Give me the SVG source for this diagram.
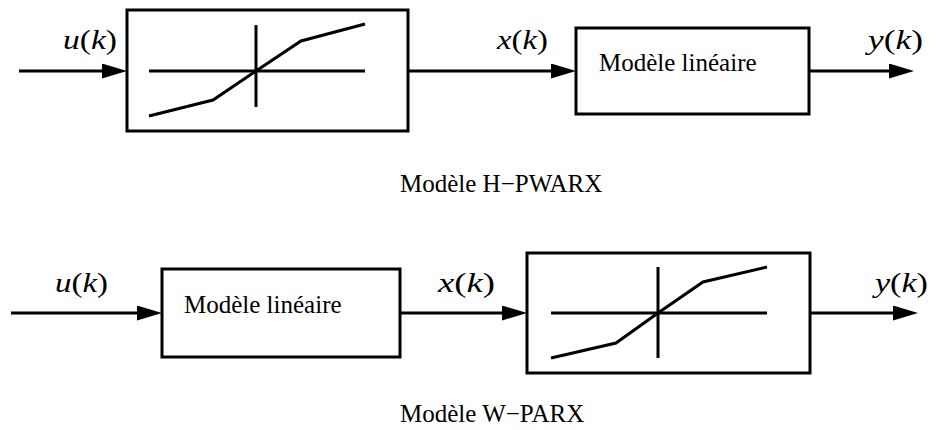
<svg xmlns="http://www.w3.org/2000/svg" width="936" height="430" viewBox="0 0 936 430">
<style>
.box{fill:#fff;stroke:#000;stroke-width:3}
.ln{fill:none;stroke:#000;stroke-width:3}
.wire{fill:none;stroke:#000;stroke-width:3;marker-end:url(#arr)}
.t{font-size:25px;fill:#000}
.m{font-size:27px;fill:#000}
.i{font-style:italic}
</style>
<defs>
<marker id="arr" markerUnits="userSpaceOnUse" markerWidth="26" markerHeight="16" refX="0" refY="7.5" orient="auto">
<path d="M0,0 L25,7.5 L0,15 z" fill="#000"/>
</marker>
</defs>
<rect width="936" height="430" fill="#fff"/>
<g id="connectors">
<line class="wire" x1="19" y1="71" x2="102" y2="71"/>
<line class="wire" x1="408" y1="71" x2="551" y2="71"/>
<line class="wire" x1="809" y1="71" x2="889" y2="71"/>
<line class="wire" x1="11" y1="313" x2="137" y2="313"/>
<line class="wire" x1="400" y1="313" x2="502" y2="313"/>
<line class="wire" x1="810" y1="313" x2="893" y2="313"/>
</g>
<g id="h-nonlin">
<rect class="box" x="127" y="10" width="281" height="121"/>
<line class="ln" x1="149" y1="71" x2="365" y2="71"/>
<line class="ln" x1="256" y1="25" x2="256" y2="107"/>
<polyline class="ln" points="149,116 213,100 256,71 301,41 365,24"/>
</g>
<g id="h-lin">
<rect class="box" x="576" y="28" width="233" height="86"/>
<text class="t" font-family="Liberation Serif, serif" x="599" y="71">Modèle linéaire</text>
</g>
<g id="w-lin">
<rect class="box" x="162" y="269" width="238" height="88"/>
<text class="t" font-family="Liberation Serif, serif" x="184" y="313">Modèle linéaire</text>
</g>
<g id="w-nonlin">
<rect class="box" x="527" y="253" width="283" height="120"/>
<line class="ln" x1="551" y1="313" x2="767" y2="313"/>
<line class="ln" x1="658" y1="267" x2="658" y2="358"/>
<polyline class="ln" points="551,358 616,343 658,313 703,282 767,267"/>
</g>
<g id="labels" font-family="Liberation Serif, serif">
<text class="m" x="63" y="49" textLength="54" lengthAdjust="spacingAndGlyphs"><tspan class="i">u</tspan>(<tspan class="i">k</tspan>)</text>
<text class="m" x="497" y="49" textLength="51" lengthAdjust="spacingAndGlyphs"><tspan class="i">x</tspan>(<tspan class="i">k</tspan>)</text>
<text class="m" x="868" y="49" textLength="55" lengthAdjust="spacingAndGlyphs"><tspan class="i">y</tspan>(<tspan class="i">k</tspan>)</text>
<text class="m" x="55" y="292" textLength="53" lengthAdjust="spacingAndGlyphs"><tspan class="i">u</tspan>(<tspan class="i">k</tspan>)</text>
<text class="m" x="438" y="292" textLength="57" lengthAdjust="spacingAndGlyphs"><tspan class="i">x</tspan>(<tspan class="i">k</tspan>)</text>
<text class="m" x="875" y="292" textLength="53" lengthAdjust="spacingAndGlyphs"><tspan class="i">y</tspan>(<tspan class="i">k</tspan>)</text>
<text class="t" x="400" y="192">Modèle H−PWARX</text>
<text class="t" x="400" y="422">Modèle W−PARX</text>
</g>
</svg>
